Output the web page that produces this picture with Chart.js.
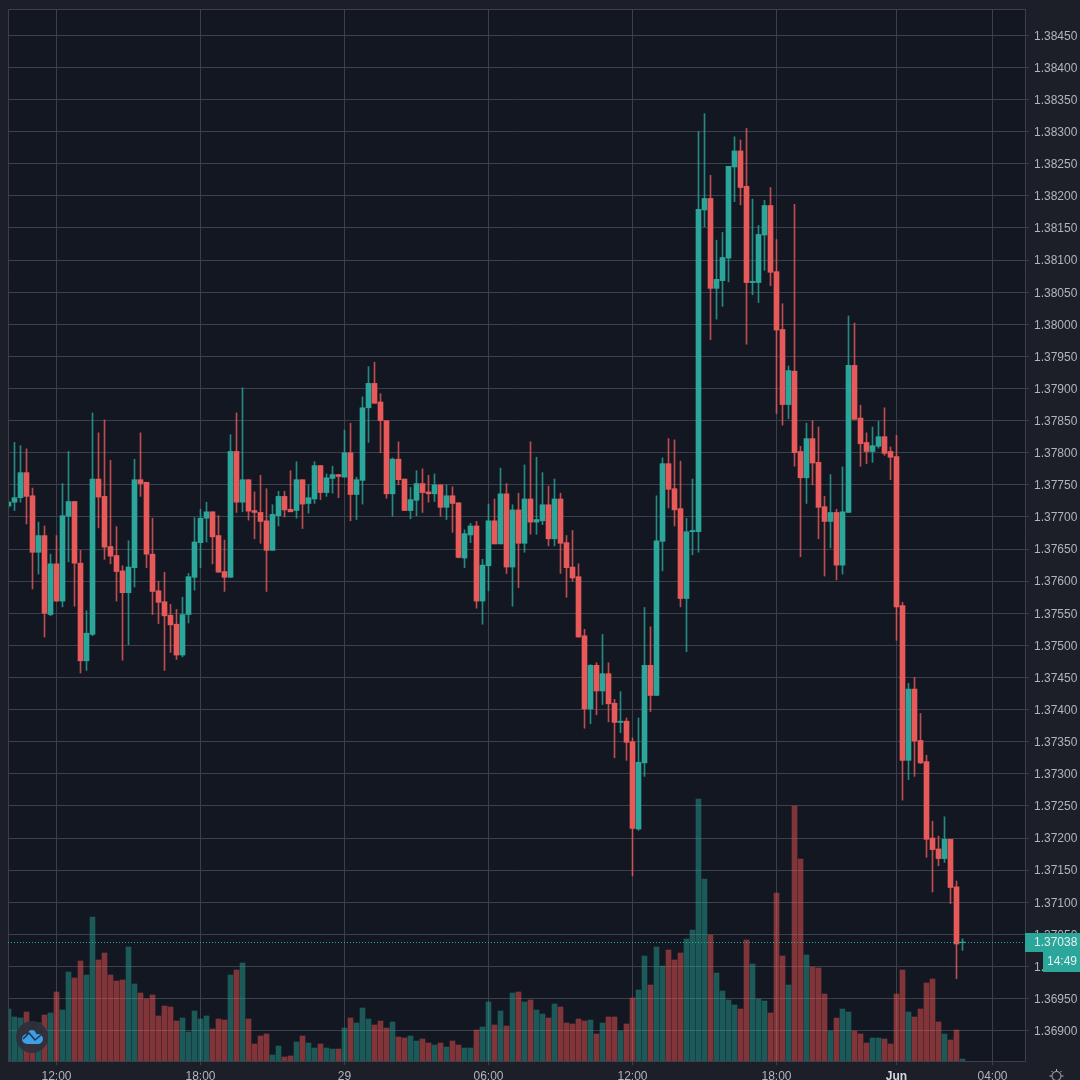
<!DOCTYPE html>
<html>
<head>
<meta charset="utf-8">
<script src="https://cdn.jsdelivr.net/npm/chart.js@4"></script>
<style>
html,body{margin:0;padding:0;background:#1c1f27;}
canvas{display:block;}
</style>
</head>
<body>
<canvas id="c" width="1080" height="1080" style="width:1080px;height:1080px"></canvas>
<script>
const opens=[1.37717,1.37723,1.37730,1.37769,1.37733,1.37645,1.37671,1.37548,1.37627,1.37569,1.37701,1.37724,1.37628,1.37476,1.37517,1.37759,1.37732,1.37654,1.37640,1.37616,1.37582,1.37621,1.37758,1.37754,1.37642,1.37585,1.37568,1.37547,1.37533,1.37485,1.37548,1.37606,1.37660,1.37698,1.37708,1.37671,1.37615,1.37606,1.37802,1.37723,1.37758,1.37710,1.37707,1.37694,1.37648,1.37702,1.37732,1.37712,1.37710,1.37758,1.37721,1.37728,1.37780,1.37738,1.37760,1.37766,1.37762,1.37800,1.37735,1.37757,1.37870,1.37908,1.37879,1.37850,1.37736,1.37790,1.37759,1.37710,1.37726,1.37752,1.37739,1.37736,1.37750,1.37715,1.37733,1.37722,1.37636,1.37672,1.37686,1.37569,1.37624,1.37694,1.37658,1.37736,1.37622,1.37711,1.37659,1.37728,1.37692,1.37694,1.37719,1.37666,1.37728,1.37660,1.37622,1.37607,1.37515,1.37401,1.37469,1.37429,1.37456,1.37410,1.37380,1.37382,1.37350,1.37214,1.37317,1.37469,1.37422,1.37662,1.37783,1.37744,1.37713,1.37573,1.37677,1.37677,1.38178,1.38196,1.38056,1.38068,1.38103,1.38245,1.38270,1.38215,1.38065,1.38065,1.38139,1.38185,1.38082,1.37992,1.37875,1.37927,1.37802,1.37761,1.37822,1.37785,1.37716,1.37693,1.37707,1.37625,1.37707,1.37936,1.37854,1.37816,1.37802,1.37810,1.37825,1.37802,1.37794,1.37562,1.37321,1.37432,1.37352,1.37319,1.37200,1.37183,1.37168,1.37198,1.37124,1.37037];
const closes=[1.37723,1.37730,1.37769,1.37732,1.37645,1.37671,1.37550,1.37627,1.37569,1.37702,1.37724,1.37628,1.37476,1.37519,1.37759,1.37731,1.37653,1.37639,1.37615,1.37582,1.37622,1.37758,1.37752,1.37642,1.37584,1.37567,1.37546,1.37532,1.37485,1.37548,1.37607,1.37661,1.37698,1.37708,1.37669,1.37614,1.37606,1.37802,1.37723,1.37758,1.37709,1.37707,1.37693,1.37648,1.37704,1.37732,1.37711,1.37708,1.37758,1.37720,1.37730,1.37780,1.37738,1.37761,1.37766,1.37763,1.37800,1.37735,1.37758,1.37870,1.37908,1.37877,1.37850,1.37736,1.37790,1.37758,1.37710,1.37727,1.37752,1.37738,1.37736,1.37750,1.37715,1.37733,1.37721,1.37637,1.37674,1.37686,1.37569,1.37625,1.37694,1.37658,1.37736,1.37622,1.37711,1.37659,1.37728,1.37692,1.37696,1.37719,1.37666,1.37728,1.37659,1.37621,1.37605,1.37513,1.37401,1.37469,1.37429,1.37456,1.37409,1.37380,1.37382,1.37349,1.37215,1.37318,1.37469,1.37422,1.37663,1.37783,1.37743,1.37711,1.37573,1.37677,1.37679,1.38179,1.38196,1.38056,1.38070,1.38104,1.38246,1.38270,1.38213,1.38065,1.38067,1.38140,1.38185,1.38081,1.37991,1.37875,1.37928,1.37800,1.37761,1.37822,1.37784,1.37715,1.37693,1.37707,1.37625,1.37708,1.37936,1.37852,1.37814,1.37802,1.37811,1.37825,1.37799,1.37793,1.37560,1.37321,1.37432,1.37351,1.37317,1.37198,1.37182,1.37168,1.37198,1.37123,1.37035,1.37038];
const highs=[1.37725,1.37816,1.37811,1.37806,1.37745,1.37692,1.37686,1.37642,1.37671,1.37752,1.37802,1.37724,1.37648,1.37554,1.37862,1.37831,1.37851,1.37788,1.37685,1.37624,1.37663,1.37790,1.37831,1.37754,1.37698,1.37600,1.37614,1.37564,1.37556,1.37575,1.37612,1.37699,1.37712,1.37723,1.37708,1.37702,1.37664,1.37828,1.37862,1.37901,1.37758,1.37739,1.37765,1.37744,1.37719,1.37740,1.37740,1.37772,1.37786,1.37758,1.37750,1.37786,1.37780,1.37767,1.37779,1.37766,1.37835,1.37846,1.37762,1.37887,1.37934,1.37941,1.37892,1.37850,1.37792,1.37817,1.37759,1.37746,1.37772,1.37775,1.37765,1.37767,1.37750,1.37750,1.37747,1.37722,1.37680,1.37690,1.37693,1.37634,1.37720,1.37728,1.37776,1.37752,1.37719,1.37737,1.37781,1.37817,1.37793,1.37769,1.37748,1.37759,1.37737,1.37671,1.37679,1.37627,1.37525,1.37470,1.37473,1.37517,1.37473,1.37416,1.37428,1.37387,1.37356,1.37387,1.37559,1.37529,1.37733,1.37792,1.37822,1.37820,1.37787,1.37698,1.37759,1.38300,1.38328,1.38232,1.38131,1.38143,1.38246,1.38292,1.38287,1.38305,1.38195,1.38154,1.38193,1.38213,1.38132,1.38032,1.37935,1.38187,1.37810,1.37846,1.37850,1.37840,1.37732,1.37766,1.37712,1.37778,1.38013,1.38002,1.37874,1.37831,1.37840,1.37849,1.37870,1.37809,1.37827,1.37567,1.37441,1.37450,1.37394,1.37329,1.37226,1.37203,1.37233,1.37198,1.37133,1.37043];
const lows=[1.37714,1.37710,1.37723,1.37689,1.37588,1.37611,1.37513,1.37546,1.37569,1.37560,1.37630,1.37561,1.37457,1.37461,1.37515,1.37683,1.37634,1.37627,1.37569,1.37477,1.37501,1.37591,1.37732,1.37621,1.37548,1.37534,1.37461,1.37489,1.37478,1.37482,1.37535,1.37586,1.37621,1.37661,1.37627,1.37614,1.37584,1.37606,1.37707,1.37708,1.37695,1.37666,1.37659,1.37584,1.37648,1.37686,1.37700,1.37708,1.37698,1.37682,1.37706,1.37721,1.37727,1.37732,1.37737,1.37730,1.37762,1.37694,1.37696,1.37720,1.37816,1.37877,1.37800,1.37729,1.37701,1.37750,1.37710,1.37697,1.37702,1.37707,1.37723,1.37724,1.37701,1.37696,1.37676,1.37636,1.37621,1.37660,1.37558,1.37533,1.37585,1.37658,1.37658,1.37612,1.37561,1.37590,1.37645,1.37673,1.37673,1.37688,1.37655,1.37655,1.37612,1.37575,1.37600,1.37513,1.37371,1.37378,1.37392,1.37408,1.37381,1.37325,1.37364,1.37321,1.37141,1.37212,1.37296,1.37397,1.37422,1.37616,1.37714,1.37686,1.37560,1.37490,1.37641,1.37645,1.38152,1.37976,1.38008,1.38028,1.38066,1.38191,1.38186,1.37969,1.38046,1.38034,1.38084,1.38060,1.37861,1.37843,1.37853,1.37779,1.37638,1.37721,1.37750,1.37666,1.37608,1.37652,1.37602,1.37611,1.37707,1.37852,1.37779,1.37783,1.37785,1.37807,1.37796,1.37758,1.37508,1.37259,1.37291,1.37296,1.37316,1.37170,1.37116,1.37157,1.37162,1.37098,1.36981,1.37025];
const volumes=[52,44,43,49,32,38,46,48,69,51,89,83,100,86,144,101,108,86,80,81,114,77,68,62,66,45,55,54,40,43,29,50,42,45,32,42,41,86,91,98,42,17,25,27,6,15,4,5,19,25,18,13,17,13,12,12,33,43,38,53,42,36,40,33,39,24,23,25,20,22,18,16,18,14,20,16,13,13,31,34,59,36,50,35,68,69,59,61,51,47,43,57,54,38,37,42,40,41,27,38,44,44,30,37,63,71,105,76,114,95,111,101,108,122,131,262,182,126,88,70,61,56,52,121,97,62,60,48,168,105,76,255,202,106,94,93,67,30,43,52,49,30,27,18,23,23,22,17,67,91,49,44,52,78,82,39,27,21,31,2];
const priceTicks=[1.369,1.3695,1.37,1.3705,1.371,1.3715,1.372,1.3725,1.373,1.3735,1.374,1.3745,1.375,1.3755,1.376,1.3765,1.377,1.3775,1.378,1.3785,1.379,1.3795,1.38,1.3805,1.381,1.3815,1.382,1.3825,1.383,1.3835,1.384,1.3845];
const timeTickIndex=[8,32,56,80,104,128,148,164];
const timeTickLabels=["12:00","18:00","29","06:00","12:00","18:00","Jun","04:00"];
const lastPrice=1.37038;
const countdown="14:49";

const UP="#2ba69a",DOWN="#e85a5a",UPW="rgba(43,166,154,0.8)",DOWNW="rgba(232,90,90,0.8)",UPV="rgba(38,166,154,0.47)",DOWNV="rgba(239,83,80,0.5)";
const GRID="#3c404c",TEXT="#b2b5be",PLOT="#131722";
const isUp=i=>closes[i]>=opens[i];
const idx=opens.map((_,i)=>i);

const furniture={
  id:"furniture",
  beforeDraw(ch){
    const {ctx,chartArea:a}=ch;
    ctx.save();ctx.fillStyle=PLOT;ctx.fillRect(a.left,a.top,a.right-a.left,a.bottom-a.top);ctx.restore();
  },
  afterDraw(ch){
    const {ctx,chartArea:a,scales}=ch;
    const y=Math.round(scales.y.getPixelForValue(lastPrice));
    ctx.save();
    ctx.strokeStyle=GRID;ctx.lineWidth=1;
    ctx.beginPath();ctx.moveTo(a.left+.5,a.bottom);ctx.lineTo(a.left+.5,a.top+.5);ctx.lineTo(a.right,a.top+.5);ctx.stroke();
    ctx.strokeStyle="#2ba69a";ctx.setLineDash([1,2]);
    ctx.beginPath();ctx.moveTo(a.left,y+.5);ctx.lineTo(a.right,y+.5);ctx.stroke();
    ctx.setLineDash([]);
    ctx.fillStyle="#2ba69a";
    ctx.fillRect(a.right,y-9,55,19);
    ctx.fillRect(1043,y+10,37,20);
    ctx.fillStyle="#e8eeee";ctx.font="12px 'Liberation Sans'";ctx.textBaseline="middle";ctx.textAlign="left";
    ctx.fillText(lastPrice.toFixed(5),1034,y+1);
    ctx.fillText(countdown,1047,y+20);
    ctx.fillStyle="rgba(44,48,60,0.95)";
    ctx.beginPath();ctx.arc(32,1037,16,0,Math.PI*2);ctx.fill();
    ctx.fillStyle="#3d9fe6";
    ctx.beginPath();
    ctx.arc(27,1039,5,Math.PI*.5,Math.PI*1.5);
    ctx.lineTo(30,1033);ctx.arc(32,1034,4,Math.PI,Math.PI*1.9);
    ctx.arc(38,1039,5,Math.PI*1.4,Math.PI*.5);
    ctx.closePath();ctx.fill();
    ctx.strokeStyle="#22364e";ctx.lineWidth=1.6;
    ctx.beginPath();ctx.moveTo(23,1039);ctx.lineTo(29,1033);ctx.lineTo(35,1040);ctx.lineTo(41,1035);ctx.stroke();
    ctx.strokeStyle=TEXT;ctx.lineWidth=1;
    ctx.beginPath();ctx.arc(1056.5,1076,4.5,0,Math.PI*2);ctx.stroke();
    for(let k=0;k<8;k++){
      const t=k*Math.PI/4,c=Math.cos(t),s=Math.sin(t);
      ctx.beginPath();ctx.moveTo(1056.5+c*5,1076+s*5);ctx.lineTo(1056.5+c*7,1076+s*7);ctx.stroke();
    }
    ctx.restore();
  }
};

new Chart(document.getElementById("c"),{
  type:"bar",
  plugins:[furniture],
  data:{datasets:[
    {label:"Volume",order:3,yAxisID:"v",barThickness:5,
     data:idx.map(i=>({x:i,y:volumes[i]})),
     backgroundColor:idx.map(i=>isUp(i)?UPV:DOWNV)},
    {label:"Wick",order:2,yAxisID:"y",barThickness:1,
     data:idx.map(i=>({x:i,y:[lows[i],highs[i]]})),
     backgroundColor:idx.map(i=>isUp(i)?UPW:DOWNW)},
    {label:"Body",order:1,yAxisID:"y",barThickness:5,
     data:idx.map(i=>({x:i,y:[Math.min(opens[i],closes[i]),Math.max(opens[i],closes[i])]})),
     backgroundColor:idx.map(i=>isUp(i)?UP:DOWN)}
  ]},
  options:{
    responsive:false,animation:false,devicePixelRatio:1,
    layout:{padding:{left:8,top:9,right:0,bottom:0}},
    plugins:{legend:{display:false},tooltip:{enabled:false},title:{display:false}},
    datasets:{bar:{grouped:false}},
    scales:{
      x:{type:"linear",offset:false,min:-1/12,max:169.4167,
        afterBuildTicks(s){s.ticks=timeTickIndex.map(v=>({value:v}));},
        afterFit(s){s.height=19;s.paddingLeft=0;s.paddingRight=0;},
        grid:{offset:false,color:GRID,lineWidth:1,tickLength:4,tickColor:GRID,drawTicks:true},
        border:{color:GRID},
        ticks:{autoSkip:false,maxRotation:0,padding:4,
          callback:(v)=>timeTickLabels[timeTickIndex.indexOf(v)],
          color:c=>timeTickLabels[c.index]==="Jun"?"#d6d8de":TEXT,
          font:c=>({family:"'Liberation Sans'",size:12,weight:timeTickLabels[c.index]==="Jun"?"bold":"normal"})}
      },
      y:{position:"right",min:1.368528,max:1.384910,
        afterBuildTicks(s){s.ticks=priceTicks.map(v=>({value:v}));},
        afterFit(s){s.width=55;s.paddingTop=0;s.paddingBottom=0;},
        grid:{color:GRID,lineWidth:1,tickLength:4,tickColor:GRID},
        border:{color:GRID},
        ticks:{autoSkip:false,padding:5,labelOffset:1,color:TEXT,align:"center",crossAlign:"near",
          callback:v=>v.toFixed(5),font:{family:"'Liberation Sans'",size:12}}
      },
      v:{display:false,min:0,max:1052}
    }
  }
});
</script>
</body>
</html>
